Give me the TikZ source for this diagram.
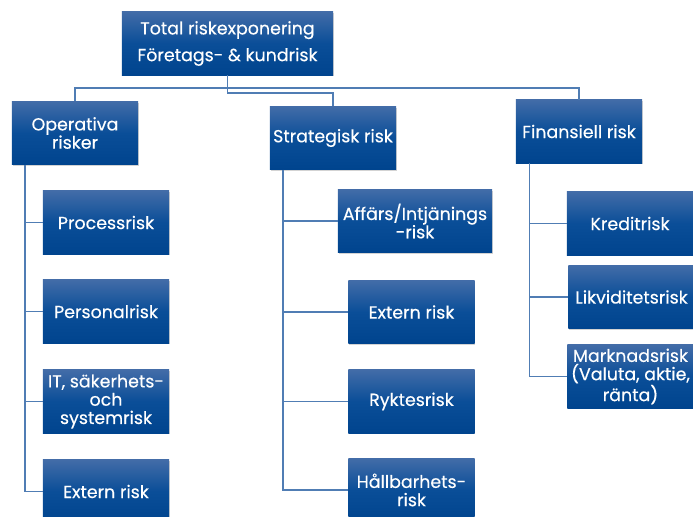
\documentclass[tikz,border=0pt]{standalone}
\usepackage{fontspec}
\setmainfont{Poppins}
\newfontfamily\boxfont{Poppins}[FakeBold=0.35]
\usetikzlibrary{shadows}
\definecolor{boxtop}{RGB}{66,108,168}
\definecolor{boxmid}{RGB}{10,78,152}
\definecolor{boxbot}{RGB}{0,68,142}
\definecolor{linecol}{RGB}{80,125,180}
\begin{document}
\begin{tikzpicture}[x=0.025cm, y=-0.025cm,
    risk/.style={rectangle, text=white, top color=boxtop, bottom color=boxbot, middle color=boxmid, drop shadow={shadow xshift=0.6pt, shadow yshift=-0.8pt, opacity=0.35}, minimum width=3.15cm, minimum height=1.575cm, align=center, inner sep=1pt, font=\boxfont\fontsize{12.4}{13}\selectfont},
    line/.style={draw=linecol, line width=0.9pt}
]
\useasboundingbox (0,0) rectangle (693,517);
\clip (0,0) rectangle (693,517);

% top
\node[risk, minimum width=5.275cm, font=\boxfont\fontsize{12.4}{19}\selectfont] (top) at (227.5,43.5) {Total riskexponering\\Företags- \& kundrisk};

% level 1
\node[risk] (op) at (75,133) {Operativa\\risker};
\node[risk] (strat) at (333,138) {Strategisk risk};
\node[risk] (fin) at (579,131.5) {Finansiell risk};

\coordinate (bus) at (227.5,88);
\coordinate (mid) at (227.5,93);
\draw[line] (op.north) |- (bus) -| (fin.north);
\draw[line] (top.south) -- (mid) -| (strat.north);

% Operativa
\node[risk] (proc) at (106,222.5) {Processrisk};
\node[risk] (pers) at (106,311.5) {Personalrisk};
\node[risk] (it) at (106,401.5) {IT, säkerhets-\\och\\systemrisk};
\node[risk] (ext1) at (106,491.5) {Extern risk};
\foreach \n in {proc,pers,it,ext1}
  \draw[line] ([xshift=0.33cm]op.south west) |- (\n.west);

% Strategisk
\node[risk, minimum width=3.85cm] (aff) at (415,221) {Affärs/Intjänings\\-risk};
\node[risk] (ext2) at (411.5,312) {Extern risk};
\node[risk] (rykt) at (411.5,401.5) {Ryktesrisk};
\node[risk] (hall) at (411.5,490) {Hållbarhets-\\risk};
\foreach \n in {aff,ext2,rykt,hall}
  \draw[line] ([xshift=0.33cm]strat.south west) |- (\n.west);

% Finansiell
\node[risk] (kred) at (630,223.5) {Kreditrisk};
\node[risk] (likv) at (631.5,297) {Likviditetsrisk};
\node[risk] (mark) at (630.5,376.5) {Marknadsrisk\\(Valuta, aktie,\\ränta)};
\foreach \n in {kred,likv,mark}
  \draw[line] ([xshift=0.35cm]fin.south west) |- (\n.west);

\end{tikzpicture}
\end{document}
